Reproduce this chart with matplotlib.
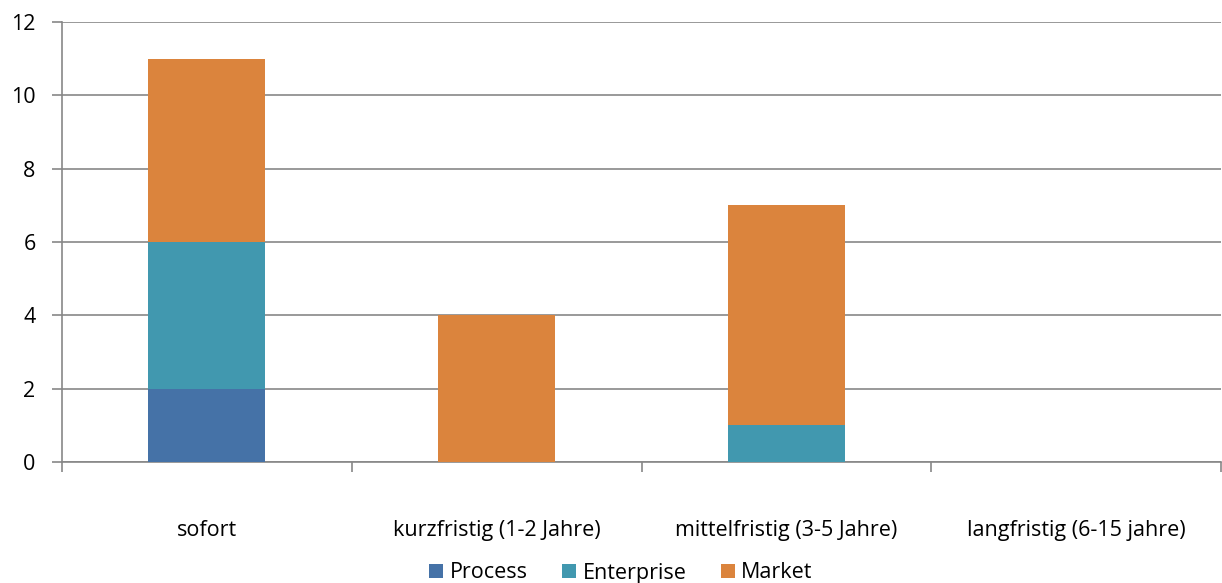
import matplotlib
matplotlib.use("Agg")
import matplotlib.pyplot as plt
import numpy as np

categories = ["sofort", "kurzfristig (1-2 Jahre)", "mittelfristig (3-5 Jahre)", "langfristig (6-15 jahre)"]
process = [2, 0, 0, 0]
enterprise = [4, 0, 1, 0]
market = [5, 4, 6, 0]
series_names = ["Process", "Enterprise", "Market"]
colors = ["#4572A7", "#4198AF", "#DB843D"]

plt.rcParams['font.family'] = ['Open Sans', 'DejaVu Sans']

fig = plt.figure(figsize=(12.22, 5.83), dpi=100)
ax = fig.add_axes([62/1222, 1-462/583, (1221-62)/1222, (462-22)/583])

x = np.arange(len(categories))
w = 0.404
bottom = np.zeros(len(categories))
for vals, name, c in zip([process, enterprise, market], series_names, colors):
    ax.bar(x, vals, w, bottom=bottom, color=c, label=name, zorder=3)
    bottom += np.array(vals)

ax.set_xlim(-0.5, len(categories) - 0.5)
ax.set_ylim(0, 12)
ax.set_yticks(range(0, 13, 2))
ax.grid(axis='y', color='#878787', linewidth=1.2, zorder=0)
for s in ['top', 'right']:
    ax.spines[s].set_visible(False)
for s in ['left', 'bottom']:
    ax.spines[s].set_color('#878787')
    ax.spines[s].set_linewidth(1.2)

fs = 15.5
ax.set_xticks(x)
ax.set_xticklabels(categories, fontsize=fs)
ax.tick_params(axis='x', length=0, pad=42)
ax.set_xticks(np.arange(-0.5, len(categories)), minor=True)
ax.tick_params(axis='x', which='minor', length=7, color='#878787', width=1.2)
ax.tick_params(axis='y', length=7, color='#878787', width=1.2, labelsize=fs, pad=12)

leg = fig.legend(loc='center', bbox_to_anchor=(0.508, 1-573/583), ncol=3, frameon=False,
                 fontsize=fs, handlelength=0.65, handleheight=0.65, handletextpad=0.3, columnspacing=1.6)

fig.savefig("out.png", dpi=100)
